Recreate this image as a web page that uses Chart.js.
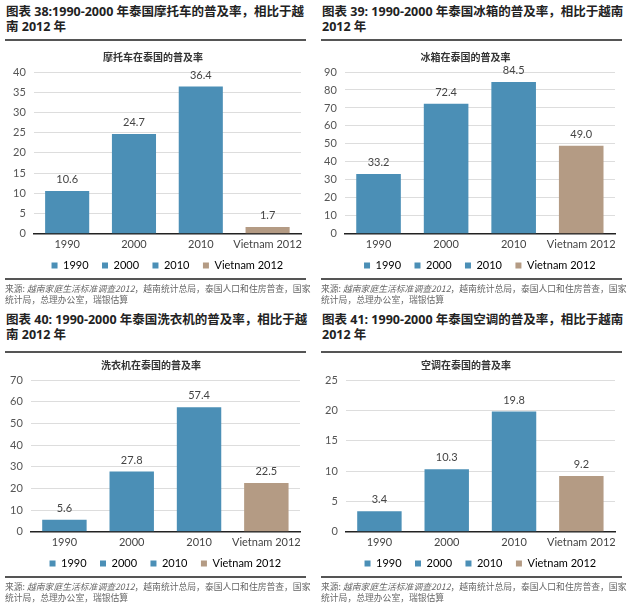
<!DOCTYPE html>
<html>
<head>
<meta charset="utf-8">
<script src="https://cdn.jsdelivr.net/npm/chart.js@4"></script>
<style>
    body { margin: 0; background: #fff; width: 640px; height: 607px; position: relative; overflow: hidden; font-family: "Open Sans", "Noto Sans CJK SC", sans-serif; }
    .head { position: absolute; font-weight: bold; font-size: 12.5px; line-height: 15px; color: #222; white-space: nowrap; }
    .rule { position: absolute; height: 2px; background: #555; }
    .src { position: absolute; font-size: 8.8px; line-height: 11px; color: #666; white-space: nowrap; font-family: "Noto Sans CJK SC", serif; }
    .src i { font-style: italic; }
    .box { position: absolute; }
</style>
</head>
<body>
<div class="head" style="left:6px;top:4px">图表 38:1990-2000 年泰国摩托车的普及率，相比于越<br>南 2012 年</div>
<div class="head" style="left:322px;top:4px">图表 39: 1990-2000 年泰国冰箱的普及率，相比于越南<br>2012 年</div>
<div class="rule" style="left:5px;top:39px;width:301px"></div>
<div class="rule" style="left:321px;top:39px;width:301px"></div>

<div class="box" style="left:0;top:46px;width:312px;height:235px"><canvas id="c38"></canvas></div>
<div class="box" style="left:316px;top:46px;width:312px;height:235px"><canvas id="c39"></canvas></div>

<div class="rule" style="left:5px;top:278px;width:301px"></div>
<div class="rule" style="left:321px;top:278px;width:301px"></div>
<div class="src" style="left:5px;top:283px">来源: <i>越南家庭生活标准调查2012</i>，越南统计总局，泰国人口和住房普查，国家<br>统计局，总理办公室，瑞银估算</div>
<div class="src" style="left:321px;top:283px">来源: <i>越南家庭生活标准调查2012</i>，越南统计总局，泰国人口和住房普查，国家<br>统计局，总理办公室，瑞银估算</div>

<div class="head" style="left:6px;top:312px">图表 40: 1990-2000 年泰国洗衣机的普及率，相比于越<br>南 2012 年</div>
<div class="head" style="left:322px;top:312px">图表 41: 1990-2000 年泰国空调的普及率，相比于越南<br>2012 年</div>
<div class="rule" style="left:5px;top:351px;width:301px"></div>
<div class="rule" style="left:321px;top:351px;width:301px"></div>

<div class="box" style="left:0;top:354px;width:312px;height:225px"><canvas id="c40"></canvas></div>
<div class="box" style="left:317px;top:354px;width:312px;height:225px"><canvas id="c41"></canvas></div>

<div class="rule" style="left:5px;top:576px;width:301px"></div>
<div class="rule" style="left:321px;top:576px;width:301px"></div>
<div class="src" style="left:5px;top:581px">来源: <i>越南家庭生活标准调查2012</i>，越南统计总局，泰国人口和住房普查，国家<br>统计局，总理办公室，瑞银估算</div>
<div class="src" style="left:321px;top:581px">来源: <i>越南家庭生活标准调查2012</i>，越南统计总局，泰国人口和住房普查，国家<br>统计局，总理办公室，瑞银估算</div>

<script>
// data
const categories = ["1990", "2000", "2010", "Vietnam 2012"]
const motorbikeRates = [10.6, 24.7, 36.4, 1.7]
const fridgeRates = [33.2, 72.4, 84.5, 49.0]
const washerRates = [5.6, 27.8, 57.4, 22.5]
const airconRates = [3.4, 10.3, 19.8, 9.2]
const motorbikeAxis = [0, 40, 5]
const fridgeAxis = [0, 90, 10]
const washerAxis = [0, 70, 10]
const airconAxis = [0, 25, 5]

const blue = "#4b8fb6"
const tan = "#b49b84"
const barColors = [blue, blue, blue, tan]
const fontFamily = "Lato, 'Noto Sans CJK SC', sans-serif"

function main() {
    buildChart("c38", "摩托车在泰国的普及率", motorbikeRates, motorbikeAxis, [5, 11])
    buildChart("c39", "冰箱在泰国的普及率", fridgeRates, fridgeAxis, [0, 13])
    buildChart("c40", "洗衣机在泰国的普及率", washerRates, washerAxis, [2, 12])
    buildChart("c41", "空调在泰国的普及率", airconRates, airconAxis, [0, 14])
}

// draws the value above each bar
const valueLabels = {
    id: "valueLabels",
    afterDatasetsDraw(chart) {
        const ctx = chart.ctx
        const meta = chart.getDatasetMeta(0)
        const values = chart.data.datasets[0].data
        ctx.save()
        ctx.font = "11px " + fontFamily
        ctx.fillStyle = "#444"
        ctx.textAlign = "center"
        ctx.textBaseline = "bottom"
        meta.data.forEach((bar, i) => {
            ctx.fillText(values[i].toFixed(1), bar.x, bar.y - 6)
        })
        ctx.restore()
    }
}

// keep the legend centred under the plot area, not the whole canvas
const legendUnderPlot = {
    id: "legendUnderPlot",
    afterLayout(chart) {
        const lg = chart.legend
        const shift = (chart.chartArea.left + chart.chartArea.right) / 2 - (lg.left + lg.right) / 2
        lg.left += shift
        lg.right += shift
    }
}

function buildChart(canvasId, title, values, axis, pad) {
    const ctx = document.getElementById(canvasId)

    new Chart(ctx, {
        type: "bar",
        data: {
            labels: categories,
            datasets: [{
                data: values,
                backgroundColor: barColors,
                barPercentage: 0.66,
                categoryPercentage: 1
            }]
        },
        options: {
            responsive: true,
            maintainAspectRatio: false,
            animation: false,
            layout: { padding: { left: pad[0], right: pad[1], top: 0, bottom: 0 } },
            plugins: {
                title: {
                    display: true,
                    text: title,
                    color: "#333",
                    font: { family: fontFamily, size: 10, weight: "bold" },
                    padding: { top: 6, bottom: 8 }
                },
                legend: {
                    position: "bottom",
                    labels: {
                        boxWidth: 6,
                        boxHeight: 6,
                        padding: 5,
                        color: "#555",
                        font: { family: fontFamily, size: 11 },
                        generateLabels: () => categories.map((c, i) => ({
                            text: i < categories.length - 1 ? c + "   " : c,
                            fillStyle: barColors[i],
                            strokeStyle: barColors[i],
                            lineWidth: 0,
                            index: i
                        }))
                    }
                },
                tooltip: { enabled: false }
            },
            scales: {
                x: {
                    grid: { display: false, drawTicks: false },
                    border: { color: "#222", width: 1.5 },
                    ticks: { color: "#444", font: { family: fontFamily, size: 11 }, padding: 4, maxRotation: 0, autoSkip: false }
                },
                y: {
                    min: axis[0],
                    max: axis[1],
                    border: { display: false },
                    grid: { color: "#ddd", drawTicks: false },
                    ticks: { stepSize: axis[2], autoSkip: false, color: "#555", font: { family: fontFamily, size: 11 }, padding: 8 }
                }
            }
        },
        plugins: [valueLabels, legendUnderPlot]
    })
}

main()
</script>
</body>
</html>
